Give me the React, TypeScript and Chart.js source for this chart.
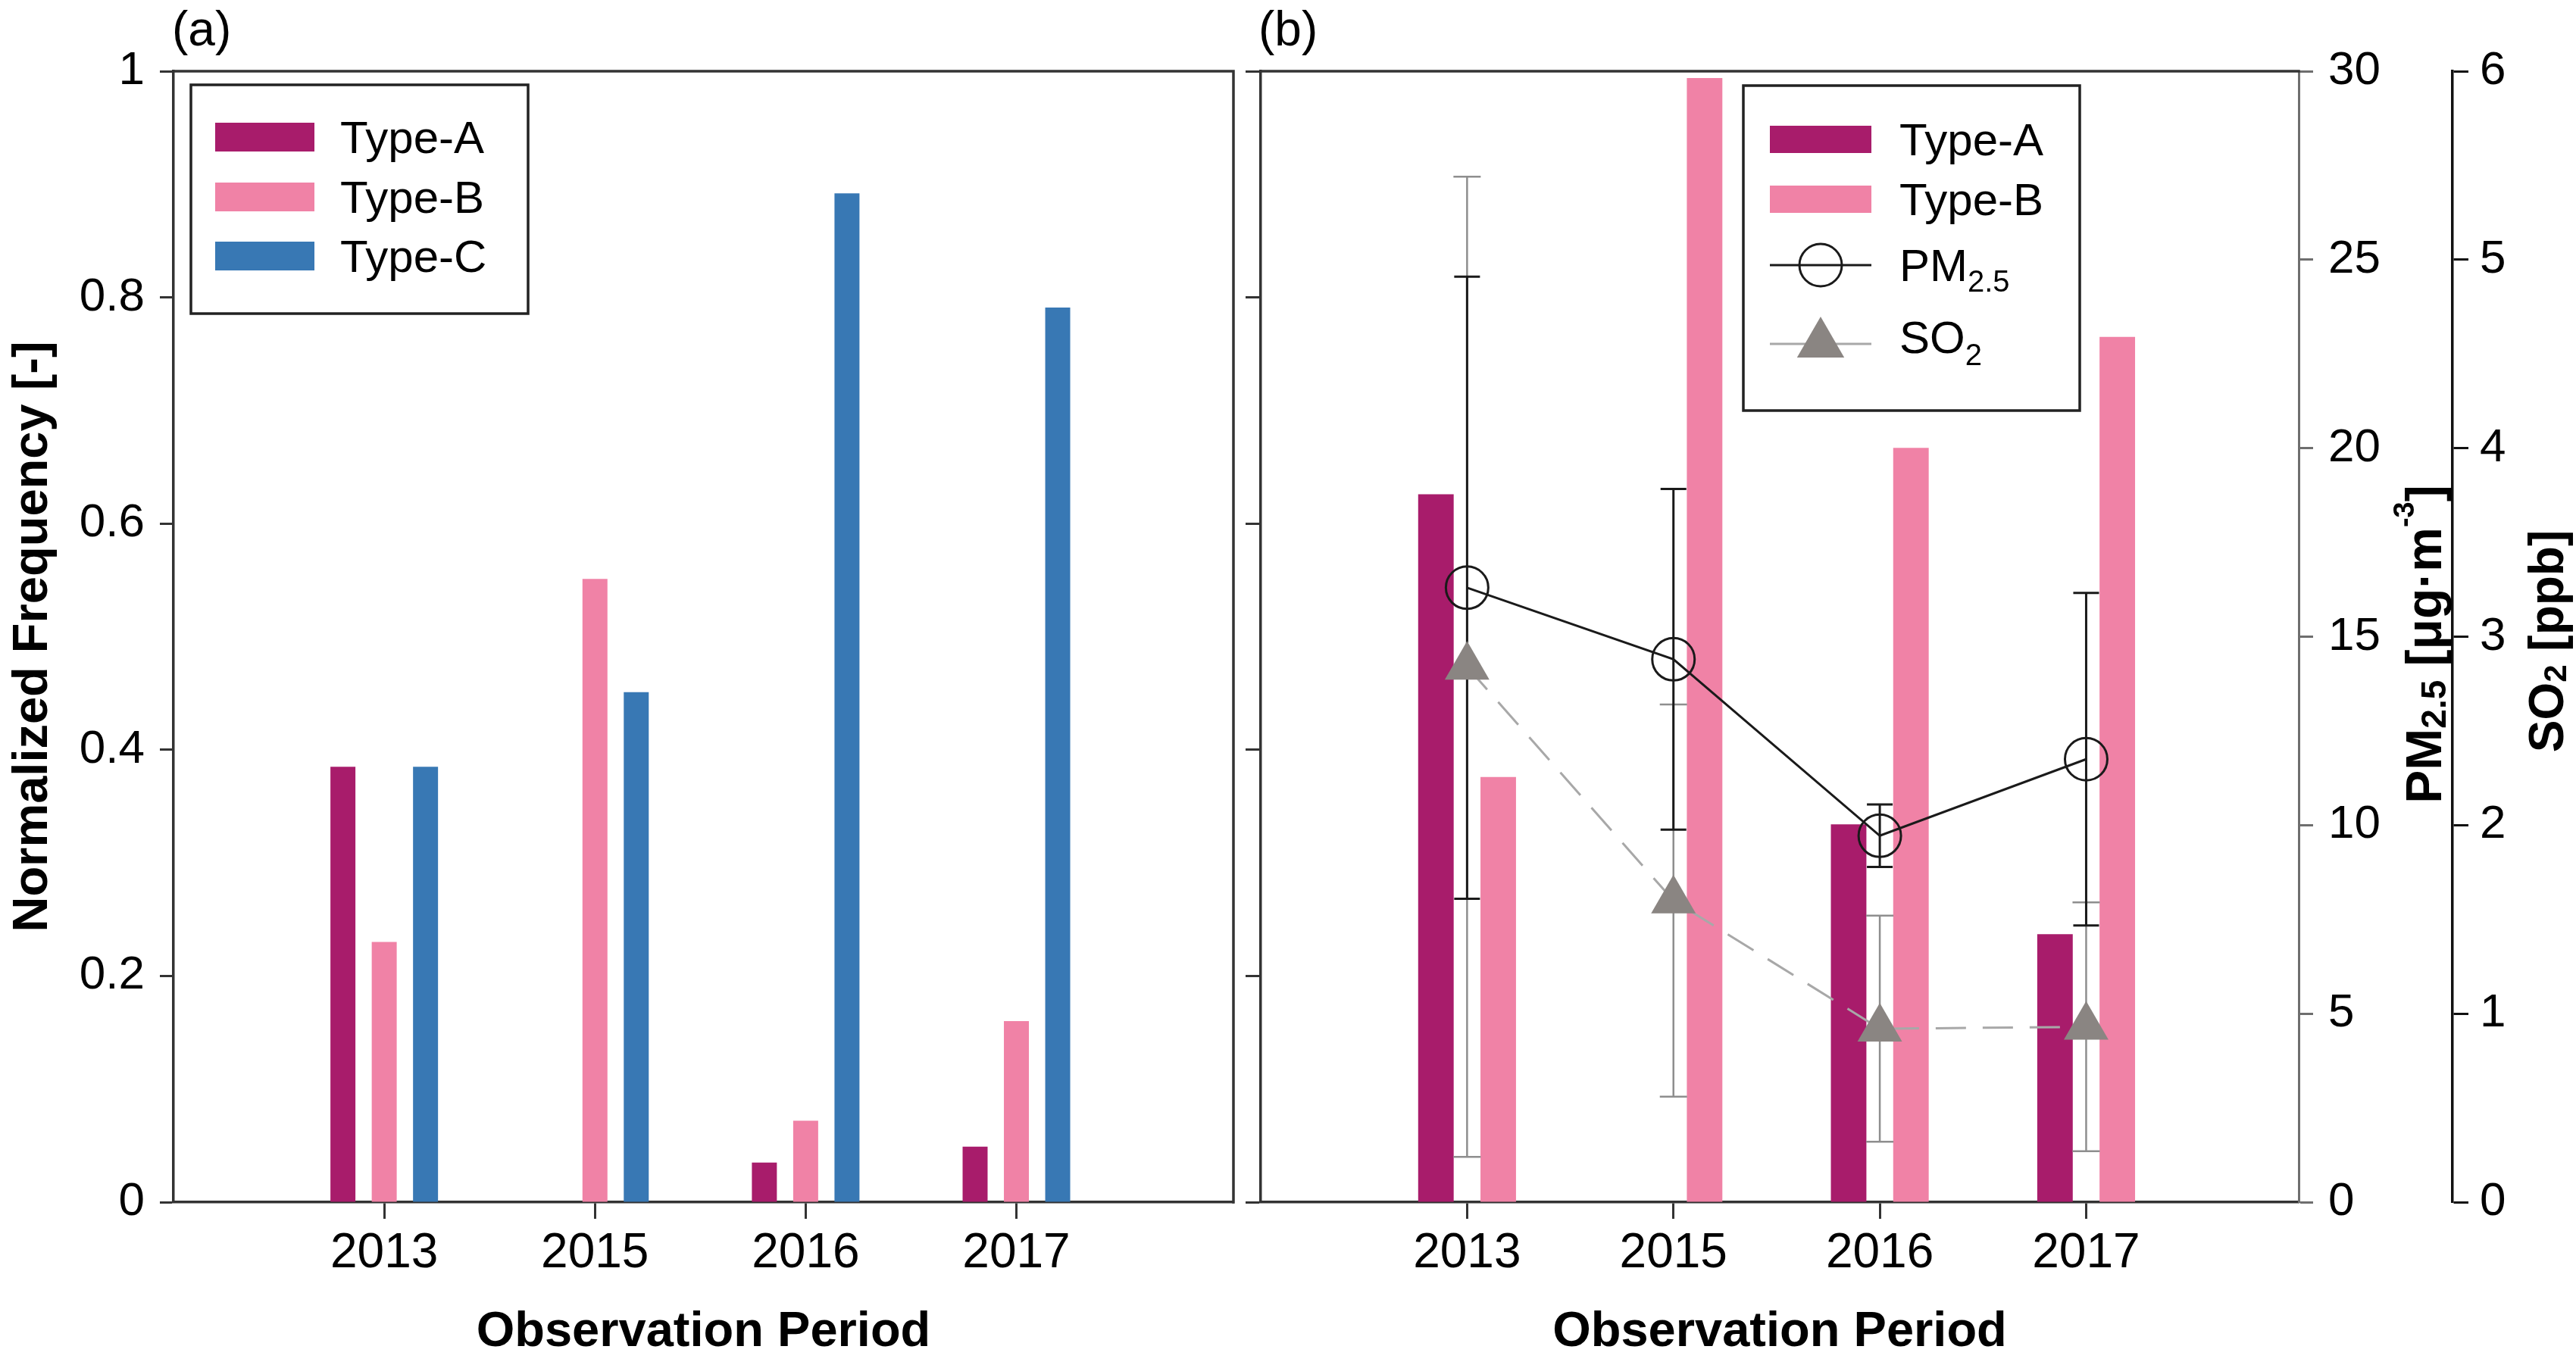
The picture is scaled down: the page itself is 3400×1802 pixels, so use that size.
import React, { useEffect, useRef } from 'react';
import { Chart, registerables } from 'chart.js';

Chart.register(...registerables);

// ---------------- data ----------------
const categories = ['2013', '2015', '2016', '2017'];
const typeLabels = ['Type-A', 'Type-B', 'Type-C'];
const freqTypeA = [0.385, 0, 0.035, 0.049];
const freqTypeB = [0.23, 0.551, 0.072, 0.16];
const freqTypeC = [0.385, 0.451, 0.892, 0.791];
const shareTypeA = [0.626, 0, 0.334, 0.237];
const shareTypeB = [0.376, 0.994, 0.667, 0.765];
const pm25Mean = [16.3, 14.4, 9.72, 11.75];
const pm25SD = [8.25, 4.52, 0.83, 4.41];
const so2Mean = [2.84, 1.6, 0.92, 0.93];
const so2SD = [2.6, 1.04, 0.6, 0.66];

// ---------------- styles ----------------
const FONT = '"Liberation Sans", Arial, Helvetica, sans-serif';
const COLOR_A = '#A81C6B';
const COLOR_B = '#F082A6';
const COLOR_C = '#3878B4';
const AXIS = '#333333';
const SO2_MARK = '#8A8582';
const SO2_LINE = '#A8A8A8';
const SO2_ERR = '#8E8E8E';

Chart.defaults.font.family = FONT;
Chart.defaults.color = '#000';

const toPts = (arr: number[]) => arr.map((v, i) => ({ x: i, y: v }));
const fmtFreq = (v: number) => String(Number(v.toFixed(1)));

type Part = { t: string; size: number; dy?: number; bold?: boolean };
function drawRich(ctx: CanvasRenderingContext2D, parts: Part[], x: number, y: number, rotate: boolean, center: boolean) {
  ctx.save();
  ctx.translate(x, y);
  if (rotate) ctx.rotate(-Math.PI / 2);
  ctx.textBaseline = 'alphabetic';
  ctx.textAlign = 'left';
  ctx.fillStyle = '#000';
  const widths = parts.map((p) => {
    ctx.font = `${p.bold ? 'bold ' : ''}${p.size}px ${FONT}`;
    return ctx.measureText(p.t).width;
  });
  const total = widths.reduce((a, b) => a + b, 0);
  let cx = center ? -total / 2 : 0;
  parts.forEach((p, i) => {
    ctx.font = `${p.bold ? 'bold ' : ''}${p.size}px ${FONT}`;
    ctx.fillText(p.t, cx, p.dy || 0);
    cx += widths[i];
  });
  ctx.restore();
}

function categoryX(height: number, tickLen: number) {
  return {
    type: 'linear' as const,
    bounds: 'data' as const,
    offset: false,
    min: -1,
    max: 4.03,
    afterBuildTicks: (s: any) => {
      s.ticks = categories.map((_, i) => ({ value: i }));
    },
    afterFit: (s: any) => {
      s.height = height;
    },
    ticks: {
      callback: (v: any) => categories[v] ?? '',
      autoSkip: false,
      maxRotation: 0,
      minRotation: 0,
      padding: 8,
      font: { size: 64 },
      color: '#000',
    },
    grid: { offset: false, drawOnChartArea: false, drawTicks: true, tickLength: tickLen, tickWidth: 3, tickColor: AXIS },
    border: { display: true, color: AXIS, width: 3.5 },
    title: {
      display: true,
      text: 'Observation Period',
      font: { size: 65, weight: 'bold' as const },
      color: '#000',
      padding: { top: 0, bottom: 4 },
    },
  };
}

// ---------------- panel (a) plugins ----------------
const panelAPlugin = {
  id: 'panelA',
  afterDraw(chart: any) {
    const { ctx, chartArea } = chart;
    ctx.save();
    ctx.strokeStyle = AXIS;
    ctx.lineWidth = 3.5;
    ctx.lineCap = 'square';
    ctx.beginPath();
    ctx.moveTo(chartArea.left, chartArea.top);
    ctx.lineTo(chartArea.right, chartArea.top);
    ctx.lineTo(chartArea.right, chartArea.bottom);
    ctx.stroke();
    ctx.fillStyle = '#000';
    ctx.font = `64px ${FONT}`;
    ctx.textBaseline = 'alphabetic';
    ctx.textAlign = 'left';
    ctx.fillText('(a)', 227, 60);
    const box = { x: 252, y: 112, w: 445, h: 302 };
    ctx.lineWidth = 3.5;
    ctx.strokeStyle = '#222';
    ctx.lineCap = 'butt';
    ctx.strokeRect(box.x, box.y, box.w, box.h);
    const rows = [181, 260, 338];
    chart.data.datasets.forEach((ds: any, i: number) => {
      ctx.fillStyle = ds.backgroundColor;
      ctx.fillRect(284, rows[i] - 19, 131, 38);
      ctx.fillStyle = '#000';
      ctx.font = `60px ${FONT}`;
      ctx.fillText(ds.label, 449, rows[i] + 21);
    });
    ctx.restore();
  },
};

// ---------------- panel (b) plugins ----------------
const CANVAS_B_LEFT = 1630;

const panelBPlugin = {
  id: 'panelB',
  beforeDatasetDraw(chart: any, args: any) {
    const ds = chart.data.datasets[args.index];
    if (ds.label !== 'SO2') return;
    const ctx = chart.ctx;
    const xs = chart.scales.x;
    const drawErr = (ys: any, means: number[], sds: number[], color: string, lw: number, cap: number) => {
      ctx.save();
      ctx.strokeStyle = color;
      ctx.lineWidth = lw;
      means.forEach((m, i) => {
        const x = xs.getPixelForValue(i);
        const yt = ys.getPixelForValue(m + sds[i]);
        const yb = ys.getPixelForValue(m - sds[i]);
        ctx.beginPath();
        ctx.moveTo(x, yt);
        ctx.lineTo(x, yb);
        ctx.moveTo(x - cap, yt);
        ctx.lineTo(x + cap, yt);
        ctx.moveTo(x - cap, yb);
        ctx.lineTo(x + cap, yb);
        ctx.stroke();
      });
      ctx.restore();
    };
    drawErr(chart.scales.ySO2, so2Mean, so2SD, SO2_ERR, 2.5, 18);
    drawErr(chart.scales.yPM, pm25Mean, pm25SD, '#1a1a1a', 3, 17);
  },
  afterDraw(chart: any) {
    const { ctx, chartArea } = chart;
    ctx.save();
    ctx.strokeStyle = AXIS;
    ctx.lineWidth = 3.5;
    ctx.lineCap = 'square';
    ctx.beginPath();
    ctx.moveTo(chartArea.left, chartArea.top);
    ctx.lineTo(chartArea.right, chartArea.top);
    ctx.stroke();
    ctx.fillStyle = '#000';
    ctx.font = `64px ${FONT}`;
    ctx.textBaseline = 'alphabetic';
    ctx.textAlign = 'left';
    ctx.fillText('(b)', 1661 - CANVAS_B_LEFT, 60);

    const L = CANVAS_B_LEFT;
    ctx.lineWidth = 3.5;
    ctx.strokeStyle = '#222';
    ctx.lineCap = 'butt';
    ctx.strokeRect(2301 - L, 113, 444, 429);
    const symL = 2336 - L;
    const symR = 2470 - L;
    const symC = (symL + symR) / 2;
    const textX = 2507 - L;
    const rows = [184, 263, 350, 454];
    const dsets = chart.data.datasets;
    [0, 1].forEach((i) => {
      ctx.fillStyle = dsets[i].backgroundColor;
      ctx.fillRect(symL, rows[i] - 18, symR - symL, 36);
      ctx.fillStyle = '#000';
      ctx.font = `60px ${FONT}`;
      ctx.fillText(dsets[i].label, textX, rows[i] + 21);
    });
    const pm = dsets[2];
    ctx.strokeStyle = pm.borderColor;
    ctx.lineWidth = 3;
    ctx.beginPath();
    ctx.moveTo(symL, rows[2]);
    ctx.lineTo(symR, rows[2]);
    ctx.stroke();
    ctx.beginPath();
    ctx.arc(symC, rows[2], pm.pointRadius, 0, Math.PI * 2);
    ctx.stroke();
    drawRich(ctx, [{ t: 'PM', size: 60 }, { t: '2.5', size: 40, dy: 14 }], textX, rows[2] + 21, false, false);
    const so = dsets[3];
    ctx.strokeStyle = so.borderColor;
    ctx.lineWidth = 3;
    ctx.beginPath();
    ctx.moveTo(symL, rows[3]);
    ctx.lineTo(symR, rows[3]);
    ctx.stroke();
    const r = 36;
    ctx.fillStyle = so.pointBackgroundColor;
    ctx.beginPath();
    let rad = 0;
    for (let k = 0; k < 3; k++) {
      const px = symC + Math.sin(rad) * r;
      const py = rows[3] - Math.cos(rad) * r;
      if (k === 0) ctx.moveTo(px, py);
      else ctx.lineTo(px, py);
      rad += (2 * Math.PI) / 3;
    }
    ctx.closePath();
    ctx.fill();
    drawRich(ctx, [{ t: 'SO', size: 60 }, { t: '2', size: 40, dy: 16 }], textX, rows[3] + 12, false, false);

    const cy = (chartArea.top + chartArea.bottom) / 2 + 10;
    const pmS = chart.scales.yPM;
    drawRich(
      ctx,
      [
        { t: 'PM', size: 66, bold: true },
        { t: '2.5', size: 46, bold: true, dy: 6 },
        { t: ' [\u03BCg\u00B7m', size: 66, bold: true },
        { t: '-3', size: 38, bold: true, dy: -36 },
        { t: ']', size: 66, bold: true },
      ],
      pmS.left + 188,
      cy,
      true,
      true
    );
    const soS = chart.scales.ySO2;
    drawRich(
      ctx,
      [
        { t: 'SO', size: 64, bold: true },
        { t: '2', size: 42, bold: true, dy: 4 },
        { t: ' [ppb]', size: 64, bold: true },
      ],
      soS.left + 146,
      cy - 4,
      true,
      true
    );
    ctx.restore();
  },
};

export default function App() {
  const refA = useRef<HTMLCanvasElement>(null);
  const refB = useRef<HTMLCanvasElement>(null);

  useEffect(() => {
    document.body.style.margin = '0';
    const chartA = new Chart(refA.current as HTMLCanvasElement, {
      type: 'bar',
      data: {
        datasets: [
          { label: typeLabels[0], data: toPts(freqTypeA), backgroundColor: COLOR_A },
          { label: typeLabels[1], data: toPts(freqTypeB), backgroundColor: COLOR_B },
          { label: typeLabels[2], data: toPts(freqTypeC), backgroundColor: COLOR_C },
        ] as any,
      },
      options: {
        animation: false,
        responsive: true,
        maintainAspectRatio: false,
        devicePixelRatio: 1,
        events: [],
        layout: { padding: { left: 0, top: 94, right: 12, bottom: 0 } },
        datasets: { bar: { categoryPercentage: 0.588, barPercentage: 0.605, borderWidth: 0 } },
        plugins: { legend: { display: false }, tooltip: { enabled: false }, title: { display: false } },
        scales: {
          x: categoryX(215, 22) as any,
          y: {
            min: 0,
            max: 1,
            afterFit: (s: any) => {
              s.width = 229;
            },
            ticks: { stepSize: 0.2, callback: (v: any) => fmtFreq(Number(v)), padding: 20, font: { size: 62 }, color: '#000' },
            grid: { drawOnChartArea: false, tickLength: 18, tickWidth: 3, tickColor: AXIS },
            border: { display: true, color: AXIS, width: 3.5 },
            title: {
              display: true,
              text: 'Normalized Frequency [-]',
              font: { size: 65, weight: 'bold' },
              color: '#000',
              padding: { top: 5, bottom: 0 },
            },
          },
        },
      } as any,
      plugins: [panelAPlugin],
    });

    const chartB = new Chart(refB.current as HTMLCanvasElement, {
      type: 'bar',
      data: {
        datasets: [
          { label: typeLabels[0], data: toPts(shareTypeA), backgroundColor: COLOR_A, yAxisID: 'yFreq', order: 3 },
          { label: typeLabels[1], data: toPts(shareTypeB), backgroundColor: COLOR_B, yAxisID: 'yFreq', order: 3 },
          {
            type: 'line',
            label: 'PM2.5',
            data: toPts(pm25Mean),
            yAxisID: 'yPM',
            order: 1,
            borderColor: '#1a1a1a',
            borderWidth: 3,
            pointStyle: 'circle',
            pointRadius: 28,
            pointBorderWidth: 3,
            pointBorderColor: '#1a1a1a',
            pointBackgroundColor: 'rgba(0,0,0,0)',
            fill: false,
            clip: false,
          },
          {
            type: 'line',
            label: 'SO2',
            data: toPts(so2Mean),
            yAxisID: 'ySO2',
            order: 2,
            borderColor: SO2_LINE,
            borderWidth: 3,
            borderDash: [40, 22],
            pointStyle: 'triangle',
            pointRadius: 34,
            pointBorderWidth: 0,
            pointBorderColor: SO2_MARK,
            pointBackgroundColor: SO2_MARK,
            fill: false,
            clip: false,
          },
        ] as any,
      },
      options: {
        animation: false,
        responsive: true,
        maintainAspectRatio: false,
        devicePixelRatio: 1,
        events: [],
        layout: { padding: { left: 0, top: 94, right: 0, bottom: 0 } },
        datasets: { bar: { categoryPercentage: 0.604, barPercentage: 0.57, borderWidth: 0 } },
        plugins: { legend: { display: false }, tooltip: { enabled: false }, title: { display: false } },
        scales: {
          x: categoryX(215, 22) as any,
          yFreq: {
            position: 'left',
            min: 0,
            max: 1,
            afterFit: (s: any) => {
              s.width = 25;
            },
            ticks: { stepSize: 0.2, callback: () => '', padding: 0, font: { size: 10 } },
            grid: { drawOnChartArea: false, tickLength: 20, tickWidth: 3, tickColor: AXIS },
            border: { display: true, color: AXIS, width: 3.5 },
          },
          yPM: {
            position: 'right',
            weight: 0,
            min: 0,
            max: 30,
            afterFit: (s: any) => {
              s.width = 203;
            },
            ticks: { stepSize: 5, padding: 20, font: { size: 62 }, color: '#000' },
            grid: { drawOnChartArea: false, tickLength: 19, tickWidth: 3, tickColor: '#6e6e6e' },
            border: { display: true, color: '#6e6e6e', width: 3 },
          },
          ySO2: {
            position: 'right',
            weight: 1,
            min: 0,
            max: 6,
            afterFit: (s: any) => {
              s.width = 163;
            },
            ticks: { stepSize: 1, padding: 15, font: { size: 62 }, color: '#000' },
            grid: { drawOnChartArea: false, tickLength: 21, tickWidth: 3, tickColor: '#111' },
            border: { display: true, color: '#111', width: 3.5 },
          },
        },
      } as any,
      plugins: [panelBPlugin],
    });

    return () => {
      chartA.destroy();
      chartB.destroy();
    };
  }, []);

  return (
    <div style={{ position: 'relative', width: 3400, height: 1802, background: '#fff', overflow: 'hidden' }}>
      <div style={{ position: 'absolute', left: 0, top: 0, width: 1640, height: 1802 }}>
        <canvas ref={refA} />
      </div>
      <div style={{ position: 'absolute', left: CANVAS_B_LEFT, top: 0, width: 1770, height: 1802 }}>
        <canvas ref={refB} />
      </div>
    </div>
  );
}
